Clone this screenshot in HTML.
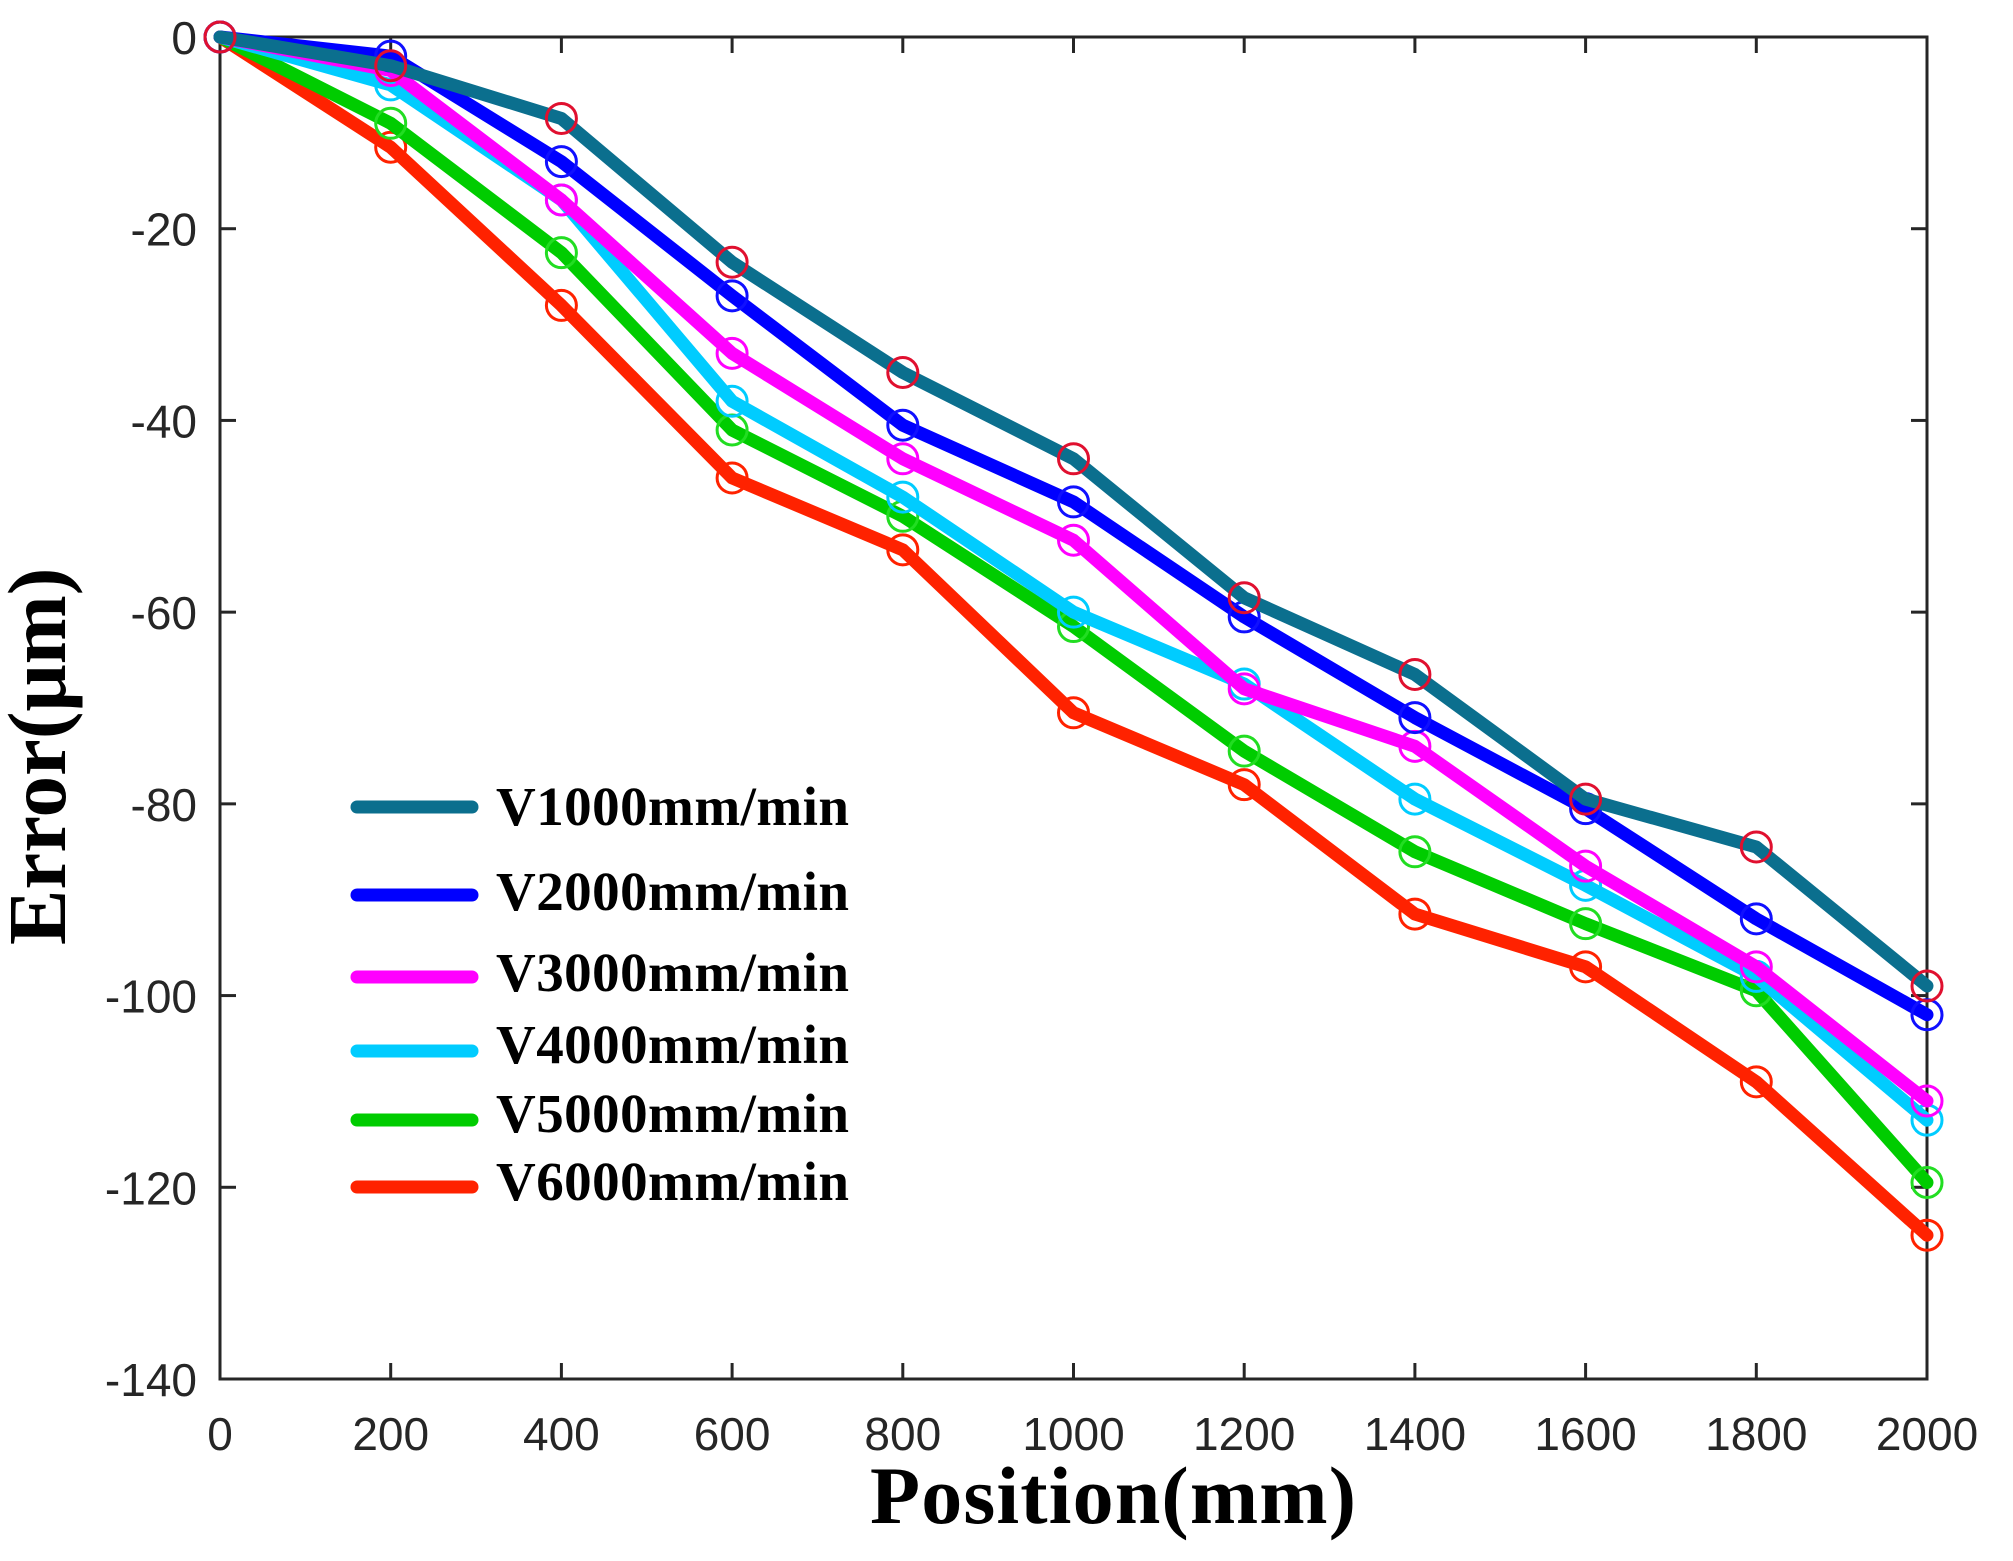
<!DOCTYPE html>
<html><head><meta charset="utf-8"><style>
html,body{margin:0;padding:0;background:#fff;}
svg{display:block;}
</style></head><body>
<svg id="s" xmlns="http://www.w3.org/2000/svg" width="2013" height="1561" viewBox="0 0 2013 1561">
<rect width="2013" height="1561" fill="#fff"/>
<g id="axes" stroke="#262626" stroke-width="3" fill="none"></g>
<g id="ticklabels" font-family="Liberation Sans, sans-serif" font-size="46" fill="#262626"></g>
<g id="series"></g>
<g id="legend"></g>
<text x="870" y="1523" font-family="Liberation Serif, serif" font-weight="bold" font-size="82" fill="#000" textLength="486">Position(mm)</text>
<text transform="translate(65,945) rotate(-90)" font-family="Liberation Serif, serif" font-weight="bold" font-size="83" fill="#000">Error(μm)</text>
</svg>
<script>
const NS="http://www.w3.org/2000/svg";
const L=220,R=1927,T=37,B=1379;
const X=v=>L+v*(R-L)/2000, Y=e=>T+(-e)*(B-T)/140;
function el(p,n,a,t){const e=document.createElementNS(NS,n);for(const k in a)e.setAttribute(k,a[k]);if(t!==undefined)e.textContent=t;p.appendChild(e);return e;}
const ax=document.getElementById('axes');
el(ax,'rect',{x:L,y:T,width:R-L,height:B-T});
const tl=document.getElementById('ticklabels');
for(let v=0;v<=2000;v+=200){const x=X(v);
 el(ax,'line',{x1:x,y1:B,x2:x,y2:B-16});el(ax,'line',{x1:x,y1:T,x2:x,y2:T+16});
 el(tl,'text',{x:x,y:1450,'text-anchor':'middle'},String(v));}
for(let e=0;e>=-140;e-=20){const y=Y(e);
 el(ax,'line',{x1:L,y1:y,x2:L+16,y2:y});el(ax,'line',{x1:R,y1:y,x2:R-16,y2:y});
 el(tl,'text',{x:197,y:y+17,'text-anchor':'end'},String(e));}
const data=[
 ['V6000mm/min','#FF2200','#FF2200',[0,-11.5,-28,-46,-53.5,-70.5,-78,-91.5,-97,-109,-125]],
 ['V5000mm/min','#00CC00','#22DD22',[0,-9,-22.5,-41,-50,-61.5,-74.5,-85,-92.5,-99.5,-119.5]],
 ['V4000mm/min','#00CCFF','#00CCFF',[0,-5,-17,-38,-48,-60,-67.5,-79.5,-88.5,-98,-113]],
 ['V3000mm/min','#FF00FF','#FF00FF',[0,-3.5,-17,-33,-44,-52.5,-68,-74,-86.5,-97,-111]],
 ['V2000mm/min','#0000FF','#1010FF',[0,-2,-13,-27,-40.5,-48.5,-60.5,-71,-80.5,-92,-102]],
 ['V1000mm/min','#0B6F8E','#E0102F',[0,-3,-8.5,-23.5,-35,-44,-58.5,-66.5,-79.5,-84.5,-99]]
];
const sg=document.getElementById('series');
data.forEach(d=>{
 const pts=d[3].map((e,i)=>X(i*200)+','+Y(e)).join(' ');
 el(sg,'polyline',{points:pts,fill:'none',stroke:d[1],'stroke-width':13,'stroke-linejoin':'round','stroke-linecap':'round'});
 d[3].forEach((e,i)=>el(sg,'circle',{cx:X(i*200),cy:Y(e),r:15,fill:'none',stroke:d[2],'stroke-width':3}));
});
const lg=document.getElementById('legend');
const rows=[[807,825],[895,910],[977,991],[1051,1063],[1120,1132],[1187,1200]];
data.slice().reverse().forEach((d,i)=>{
 el(lg,'line',{x1:357,y1:rows[i][0],x2:472,y2:rows[i][0],stroke:d[1],'stroke-width':13,'stroke-linecap':'round'});
 el(lg,'text',{x:496,y:rows[i][1],'font-family':'Liberation Serif, serif','font-weight':'bold','font-size':55,fill:'#000',textLength:353},d[0]);
});
</script>
</body></html>
